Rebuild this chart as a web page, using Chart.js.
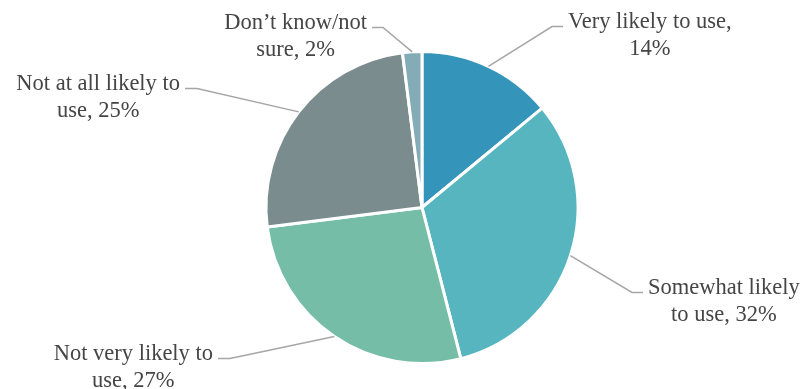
<!DOCTYPE html>
<html>
<head>
<meta charset="utf-8">
<script src="https://cdn.jsdelivr.net/npm/chart.js@4"></script>
<style>
  html, body { margin: 0; padding: 0; background: #ffffff; }
  #wrap { width: 804px; height: 389px; }
</style>
</head>
<body>
<div id="wrap"><canvas id="c" width="804" height="389"></canvas></div>
<script>
// ---- Data ----
const categories = ["Very likely to use", "Somewhat likely to use", "Not very likely to use", "Not at all likely to use", "Don’t know/not sure"];
const values = [14, 32, 27, 25, 2];
// label text split into two printed lines (second line ends with the value)
const labelFirstLine = ["Very likely to use,", "Somewhat likely", "Not very likely to", "Not at all likely to", "Don’t know/not"];
const labelSecondLinePrefix = ["", "to use,", "use,", "use,", "sure,"];

// ---- Styles ----
const sliceColors = ["#3494BA", "#56B5BF", "#75BDA7", "#7A8C8E", "#84ACB6"];
const FONT = "22.5px 'Liberation Serif', 'Times New Roman', serif";
const TEXT_COLOR = "#454545";
const LINE_COLOR = "#A6A6A6";
const LINE_HEIGHT = 27;

// elbow point offsets from pie centre, side of the label, horizontal tail length
const labelLayout = [
  { dx: 130, dy: -181, side: "right", tail: 11 },
  { dx: 210, dy: 85, side: "right", tail: 11 },
  { dx: -192, dy: 151, side: "left", tail: 12 },
  { dx: -225, dy: -119, side: "left", tail: 12 },
  { dx: -39, dy: -180, side: "left", tail: 11 }
];

const labelPlugin = {
  id: "leaderLabels",
  afterDraw(chart) {
    const ctx = chart.ctx;
    const meta = chart.getDatasetMeta(0);
    ctx.save();
    ctx.font = FONT;
    meta.data.forEach((arc, i) => {
      const p = arc.getProps(["x", "y", "startAngle", "endAngle", "outerRadius"], true);
      const mid = (p.startAngle + p.endAngle) / 2;
      const sx = p.x + Math.cos(mid) * p.outerRadius;
      const sy = p.y + Math.sin(mid) * p.outerRadius;
      const L = labelLayout[i];
      const ex = p.x + L.dx, ey = p.y + L.dy;
      const dir = L.side === "right" ? 1 : -1;
      const tx = ex + dir * L.tail;
      ctx.strokeStyle = LINE_COLOR;
      ctx.lineWidth = 1.5;
      ctx.beginPath();
      ctx.moveTo(sx, sy);
      ctx.lineTo(ex, ey);
      ctx.lineTo(tx, ey);
      ctx.stroke();

      const line1 = labelFirstLine[i];
      const pre = labelSecondLinePrefix[i];
      const line2 = (pre ? pre + " " : "") + values[i] + "%";
      const w1 = ctx.measureText(line1).width;
      const gap = 5;
      const cx = L.side === "right" ? tx + gap + w1 / 2 : tx - gap - w1 / 2;
      ctx.fillStyle = TEXT_COLOR;
      ctx.textAlign = "center";
      ctx.textBaseline = "alphabetic";
      ctx.fillText(line1, cx, ey + 1);
      ctx.fillText(line2, cx, ey + 1 + LINE_HEIGHT);
    });
    ctx.restore();
  }
};

new Chart(document.getElementById("c"), {
  type: "pie",
  data: {
    labels: categories,
    datasets: [{
      data: values,
      backgroundColor: sliceColors,
      borderColor: "#ffffff",
      borderWidth: 3
    }]
  },
  options: {
    responsive: false,
    animation: false,
    layout: { padding: { top: 50, bottom: 24, left: 40, right: 0 } },
    plugins: { legend: { display: false }, tooltip: { enabled: false } }
  },
  plugins: [labelPlugin]
});
</script>
</body>
</html>
